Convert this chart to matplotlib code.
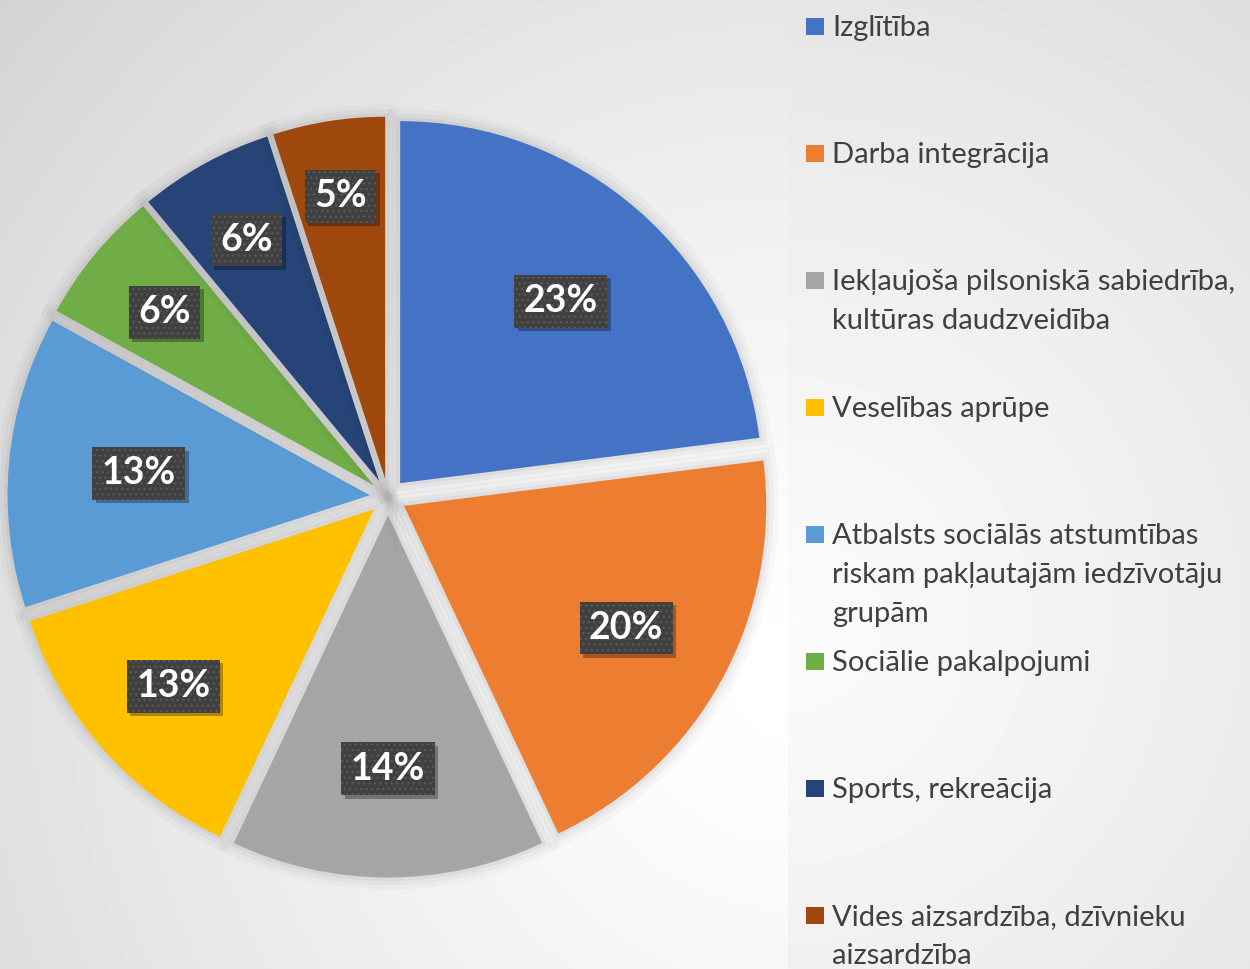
import numpy as np
import matplotlib
matplotlib.use("Agg")
import matplotlib.pyplot as plt
import matplotlib.patheffects as pe
from matplotlib.patches import Rectangle

categories = [
    "Izglītība",
    "Darba integrācija",
    "Iekļaujoša pilsoniskā sabiedrība,\nkultūras daudzveidība",
    "Veselības aprūpe",
    "Atbalsts sociālās atstumtības\nriskam pakļautajām iedzīvotāju\ngrupām",
    "Sociālie pakalpojumi",
    "Sports, rekreācija",
    "Vides aizsardzība, dzīvnieku\naizsardzība",
]
shares = [23, 20, 14, 13, 13, 6, 6, 5]
colors = ["#4472C4", "#ED7D31", "#A5A5A5", "#FFC000",
          "#5B9BD5", "#70AD47", "#264478", "#9E480E"]
# how far out each percentage box sits (fraction of radius), like the Excel layout
label_r = [0.67, 0.70, 0.70, 0.74, 0.64, 0.75, 0.76, 0.79]

W, H = 1250, 969
R = 362
fig = plt.figure(figsize=(W / 100, H / 100), dpi=100)

# background: radial gradient for the plot area, softer one for the legend panel
yy, xx = np.mgrid[0:H, 0:W]
split = 788
d1 = np.hypot(xx - 790, yy - 680)
left = 1.0 - 0.17 * np.clip(d1 / 1040, 0, 1) ** 1.3
d2 = np.hypot(xx - split, yy - 620)
right = 0.985 - 0.11 * np.clip(d2 / 760, 0, 1) ** 1.2
bg = np.where(xx < split, left, right)
bga = fig.add_axes([0, 0, 1, 1])
bga.imshow(bg, cmap="gray", vmin=0, vmax=1, extent=(0, W, H, 0), aspect="auto")
bga.axis("off")

ax = fig.add_axes([0, 0, 1, 1])
ax.patch.set_visible(False)

halo = [pe.Stroke(linewidth=18, foreground="black", alpha=0.025),
        pe.Stroke(linewidth=11, foreground="black", alpha=0.03),
        pe.Stroke(linewidth=5, foreground="black", alpha=0.04),
        pe.Normal()]

# explode is in data units in matplotlib, so scale by the radius
wedges, texts = ax.pie(
    shares, colors=colors, startangle=90, counterclock=False,
    center=(388, H - 497), radius=R, explode=[0.051 * R] * len(shares),
    wedgeprops=dict(linewidth=0),
)
ax.set_xlim(0, W)
ax.set_ylim(0, H)
ax.set_aspect("equal")
ax.axis("off")

for w in wedges:
    w.set_path_effects(halo)

box_shadow = [pe.SimplePatchShadow(offset=(2.5, -2.5), shadow_rgbFace="black",
                                   alpha=0.3, hatch=None),
              pe.Normal()]

for w, v, lr in zip(wedges, shares, label_r):
    ang = np.deg2rad((w.theta1 + w.theta2) / 2)
    cx, cy = w.center
    x = cx + lr * R * np.cos(ang)
    y = cy + lr * R * np.sin(ang)
    ax.text(x, y, f"{v}%", ha="center", va="center", fontsize=27,
            fontweight="bold", family=["Lato", "DejaVu Sans"], color="white",
            zorder=4,
            bbox=dict(boxstyle="square,pad=0.25", facecolor="#404040",
                      edgecolor="#585858", linewidth=0, hatch="...",
                      path_effects=box_shadow))

# legend on the right, one line of text at a time
for i, (lab, col) in enumerate(zip(categories, colors)):
    base = 36 + i * 127
    ax.add_patch(Rectangle((806, H - base + 1), 18, 17, facecolor=col,
                           edgecolor="none"))
    for k, line in enumerate(lab.split("\n")):
        ax.text(832, H - base - k * 39, line, ha="left", va="baseline",
                fontsize=21, color="#404040",
                family=["Lato", "DejaVu Sans"])

fig.savefig("out.png", dpi=100)
